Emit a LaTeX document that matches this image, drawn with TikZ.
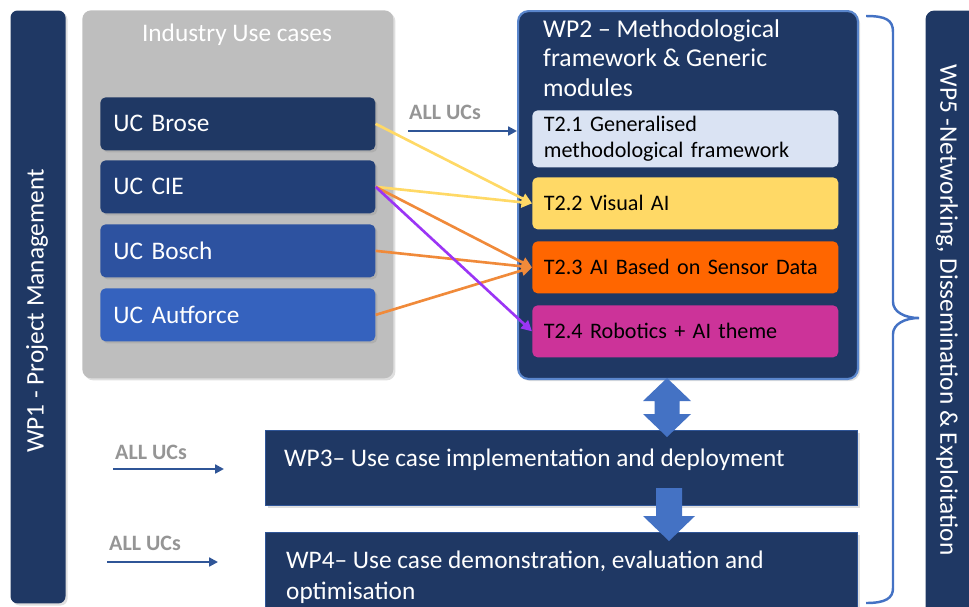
\documentclass[tikz,border=0pt]{standalone}
\usepackage{fontspec}
\setmainfont{Carlito}
\usetikzlibrary{positioning,arrows.meta,shadows}

\definecolor{navy}{HTML}{1F3864}
\definecolor{wpline}{HTML}{2F5597}
\definecolor{wptwoline}{HTML}{5A86CC}
\definecolor{brose}{HTML}{1F3864}
\definecolor{cie}{HTML}{223F77}
\definecolor{bosch}{HTML}{2D52A0}
\definecolor{autforce}{HTML}{3562BE}
\definecolor{ucgray}{HTML}{BEBEBE}
\definecolor{tone}{HTML}{DAE3F3}
\definecolor{ttwo}{HTML}{FFD966}
\definecolor{tthree}{HTML}{FF6600}
\definecolor{tfour}{HTML}{CC3399}
\definecolor{ucyellow}{HTML}{FFD966}
\definecolor{ucorange}{HTML}{F08A3A}
\definecolor{ucpurple}{HTML}{9B35F5}
\definecolor{blockblue}{HTML}{4472C4}
\definecolor{allgray}{HTML}{959595}

\begin{document}
\begin{tikzpicture}[x=0.02cm,y=-0.02cm,
  every node/.style={font=\fontsize{14.4}{17.5}\selectfont},
  shadowed/.style={drop shadow={opacity=0.25,shadow xshift=1.2pt,shadow yshift=-1.2pt}},
  ucbox/.style={anchor=north west, rounded corners=3pt, shadowed, minimum width=5.5cm, minimum height=1.06cm, text width=4.98cm, inner xsep=0.26cm, align=left, text=white},
  taskbox/.style={anchor=north west, rounded corners=3pt, minimum width=6.12cm, minimum height=1.04cm, text width=5.66cm, inner xsep=0.23cm, align=left, font=\fontsize{12.6}{14.8}\selectfont},
  wpbox/.style={anchor=north west, fill=navy, draw=wpline, line width=0.6pt, shadowed},
  allucs/.style={text=allgray, font=\bfseries\fontsize{12.5}{14}\selectfont},
  allarrow/.style={-{Triangle[length=5pt,width=5pt]}, line width=1.2pt, wpline},
  ucarrow/.style={-{Triangle[length=6pt,width=6pt]}, line width=1.5pt}]

\useasboundingbox (0,0) rectangle (969,606);

\node[wpbox, draw=none, rounded corners=4pt, minimum width=1.1cm, minimum height=11.86cm] (wp1) at (10,10) {};
\node[rotate=90, text=white] (wp1text) at (37,311) {WP1 - Project Management};

\node[anchor=north west, fill=ucgray, rounded corners=5pt, shadowed, minimum width=6.22cm, minimum height=7.36cm] (ucs) at (82,10) {};
\node[text=white] (ucstitle) at (237,35) {Industry Use cases};

\node[ucbox, fill=brose] (brose) at (100,97) {UC Brose};
\node[ucbox, fill=cie] (cie) at (100,160) {UC CIE};
\node[ucbox, fill=bosch] (bosch) at (100,224) {UC Bosch};
\node[ucbox, fill=autforce] (autforce) at (100,288) {UC Autforce};

\node[wpbox, draw=wptwoline, line width=1.2pt, rounded corners=6pt, minimum width=6.8cm, minimum height=7.36cm] (wp2) at (517,10) {};
\node[anchor=north west, text=white, align=left, font=\fontsize{14.6}{17}\selectfont] (wp2title) at (537,13) {WP2 – Methodological\\framework \& Generic\\modules};

\node[taskbox, fill=tone] (t21) at (532,110) {T2.1 Generalised\\methodological framework};
\node[taskbox, fill=ttwo] (t22) at (532,177) {T2.2 Visual AI};
\node[taskbox, fill=tthree] (t23) at (532,241) {T2.3 AI Based on Sensor Data};
\node[taskbox, fill=tfour] (t24) at (532,305) {T2.4 Robotics + AI theme};

\node[allucs] (allone) at (445,112) {ALL UCs};
\coordinate (allones) at (408,131);
\draw[allarrow] (allones) -- (allones -| wp2.west);

\draw[ucarrow, ucyellow] (brose.east) -- (t22.west);
\draw[ucarrow, ucyellow] (cie.east) -- (t22.west);
\draw[ucarrow, ucorange] (cie.east) -- (t23.west);
\draw[ucarrow, ucorange] (bosch.east) -- (t23.west);
\draw[ucarrow, ucorange] (autforce.east) -- (t23.west);
\draw[ucarrow, ucpurple] (cie.east) -- (t24.west);

\node[wpbox, minimum width=11.84cm, minimum height=1.5cm] (wp3) at (265,430) {};
\node[anchor=west, text=white] (wp3text) at (278,460) {WP3– Use case implementation and deployment};

\node[wpbox, minimum width=11.84cm, minimum height=1.7cm] (wp4) at (265,532) {};
\node[anchor=west, text=white, align=left] (wp4text) at (280,577) {WP4– Use case demonstration, evaluation and\\optimisation};

\fill[blockblue] (667,378) -- (691,401) -- (679.5,401) -- (679.5,414) -- (691,414) -- (667,437)
  -- (643,414) -- (654.5,414) -- (654.5,401) -- (643,401) -- cycle;
\fill[blockblue] (656,488) -- (682,488) -- (682,516) -- (695,516) -- (669,541) -- (643,516) -- (656,516) -- cycle;

\node[allucs] (alltwo) at (151,452) {ALL UCs};
\coordinate (alltwos) at (113,469);
\coordinate (alltwoe) at (224,469);
\draw[allarrow] (alltwos) -- (alltwoe);

\node[allucs] (allthree) at (145,543) {ALL UCs};
\coordinate (allthrees) at (107,562);
\coordinate (allthreee) at (218,562);
\draw[allarrow] (allthrees) -- (allthreee);

\draw[blockblue, line width=1.4pt] (866,16) .. controls (886,16) and (893,20) .. (893,32) -- (893,302)
  .. controls (893,312) and (905,318) .. (919,318) .. controls (905,318) and (893,324) .. (893,334)
  -- (893,588) .. controls (893,598) and (886,603) .. (866,603);

\node[wpbox, draw=none, rounded corners=5pt, minimum width=1.3cm, minimum height=12.2cm] (wp5) at (925,10) {};
\node[rotate=-90, text=white] (wp5text) at (947,310) {WP5 -Networking, Dissemination \& Exploitation};

\end{tikzpicture}
\end{document}
